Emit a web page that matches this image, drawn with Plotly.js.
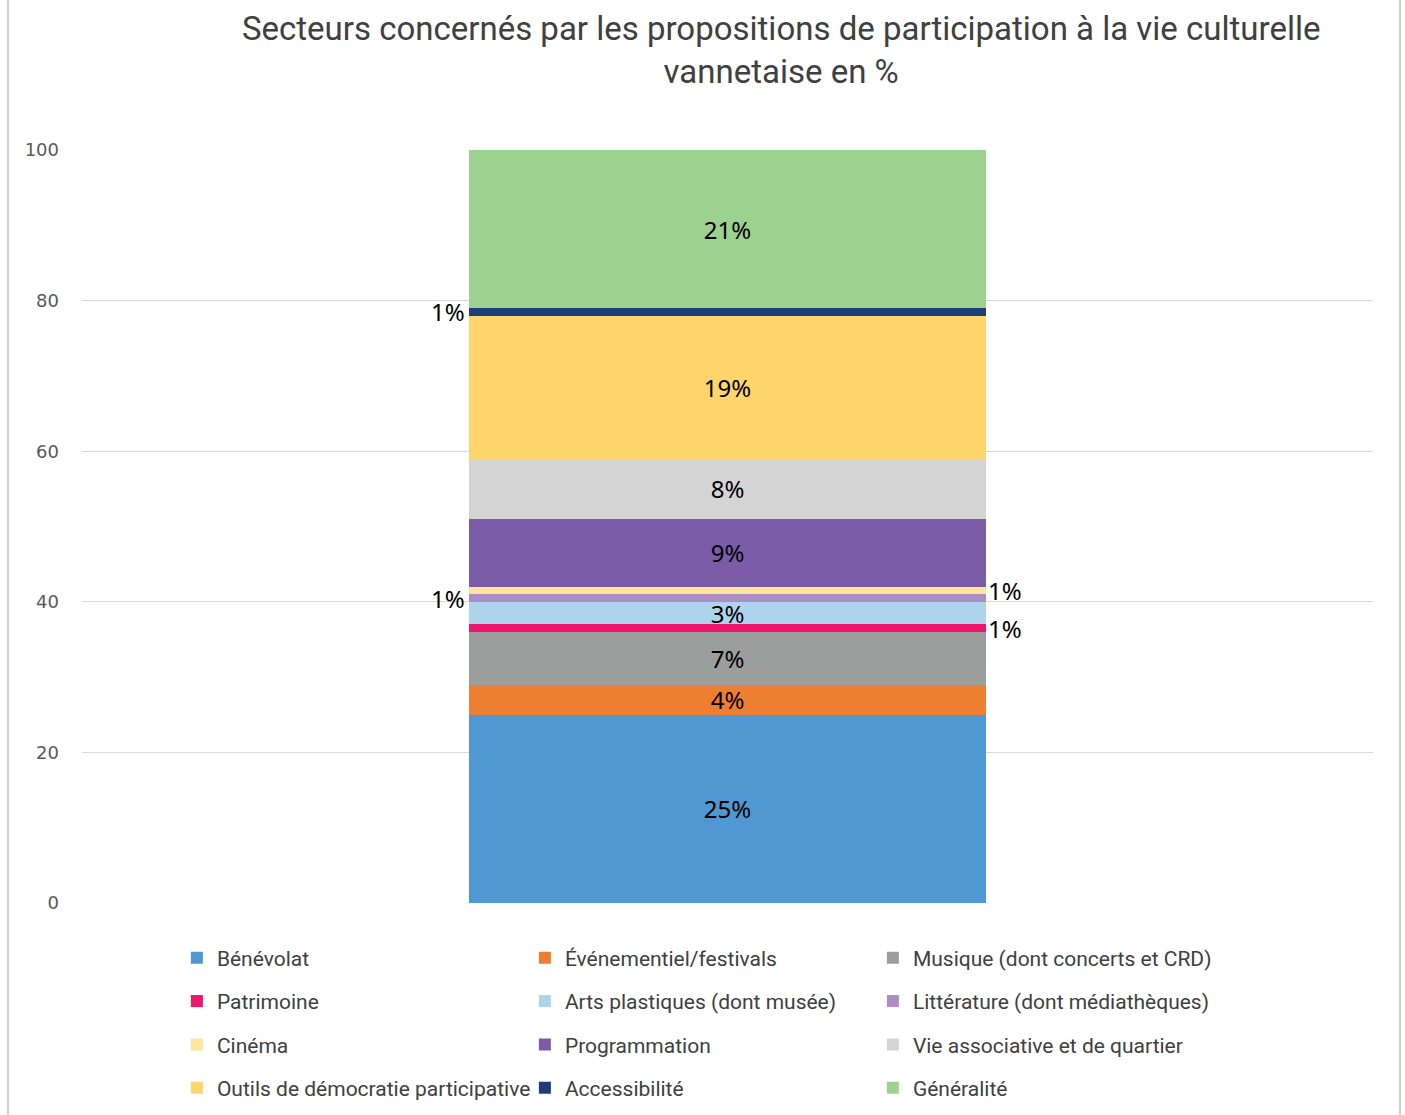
<!DOCTYPE html>
<html>
<head>
<meta charset="utf-8">
<script src="https://cdn.plot.ly/plotly-3.0.1.min.js"></script>
<style>
  html, body { margin: 0; padding: 0; background: #ffffff; }
  #frame { position: absolute; left: 7px; top: 0; width: 1394px; height: 1115px;
           border-left: 2px solid #d0d0d0; border-right: 2px solid #d0d0d0; box-sizing: border-box; }
  #chart { position: absolute; left: 0; top: 0; width: 1405px; height: 1115px; }
</style>
</head>
<body>
<div id="frame"></div>
<div id="chart"></div>
<script>
// ---- Data ----
const category = [""];
const sectors = [
  "Bénévolat",
  "Événementiel/festivals",
  "Musique (dont concerts et CRD)",
  "Patrimoine",
  "Arts plastiques (dont musée)",
  "Littérature (dont médiathèques)",
  "Cinéma",
  "Programmation",
  "Vie associative et de quartier",
  "Outils de démocratie participative",
  "Accessibilité",
  "Généralité"
];
const values = [25, 4, 7, 1, 3, 1, 1, 9, 8, 19, 1, 21];
const colors = [
  "#4f98d2", "#ee7e32", "#9c9e9e", "#ec176b", "#aed3ec", "#ab8ec6",
  "#fde69c", "#7b5ca8", "#d4d4d4", "#fdd56b", "#1f3d7b", "#9dd18f"
];
const yTicks = [0, 20, 40, 60, 80, 100];

// labels placed outside the bar for thin segments (style choice)
const outsideSide = {
  "Patrimoine": "right",
  "Littérature (dont médiathèques)": "left",
  "Cinéma": "right",
  "Accessibilité": "left"
};

const labelFont = { family: "Noto Sans, Open Sans, sans-serif", size: 24, color: "#000000" };
const legendFont = { family: "Roboto, Noto Sans, sans-serif", size: 21, color: "#404040" };

// legend split in rows of 3 (one legend per row for row spacing)
const legendIds = ["legend", "legend2", "legend3", "legend4"];

const traces = sectors.map((name, i) => ({
  type: "bar",
  name: name,
  x: category,
  y: [values[i]],
  marker: { color: colors[i], line: { width: 0 } },
  text: outsideSide[name] ? [""] : [values[i] + "%"],
  textposition: "inside",
  insidetextanchor: "middle",
  textangle: 0,
  textfont: labelFont,
  constraintext: "none",
  legend: legendIds[Math.floor(i / 3)],
  hoverinfo: "name+y"
}));

// annotations for thin segments, positioned from cumulative data
const annotations = [];
let cum = 0;
sectors.forEach((name, i) => {
  const mid = cum + values[i] / 2;
  cum += values[i];
  const side = outsideSide[name];
  if (side) {
    annotations.push({
      x: 0, y: mid, xref: "x", yref: "y",
      text: values[i] + "%",
      showarrow: false,
      xanchor: side === "left" ? "right" : "left",
      xshift: side === "left" ? -261 : 258,
      font: labelFont
    });
  }
});

function legendRow(k) {
  return {
    orientation: "h",
    traceorder: "normal",
    x: 0.0735, xanchor: "left",
    yref: "container",
    y: 0.1408 - k * 0.0389, yanchor: "middle",
    entrywidth: 303,
    entrywidthmode: "pixels",
    font: legendFont,
    bgcolor: "rgba(0,0,0,0)",
    itemclick: false
  };
}

const layout = {
  width: 1405,
  height: 1115,
  paper_bgcolor: "rgba(0,0,0,0)",
  plot_bgcolor: "rgba(0,0,0,0)",
  margin: { l: 82, r: 32, t: 150, b: 212, autoexpand: false },
  barmode: "stack",
  bargap: 0.6,
  title: {
    text: "Secteurs concernés par les propositions de participation à la vie culturelle<br>vannetaise en %",
    x: 0.556, xanchor: "center",
    yref: "container",
    y: 0.964, yanchor: "middle",
    font: { family: "Roboto, Noto Sans, sans-serif", size: 33, color: "#404040" }
  },
  xaxis: {
    type: "category",
    showticklabels: false,
    showgrid: false,
    zeroline: false,
    showline: false,
    ticks: ""
  },
  yaxis: {
    range: [0, 100],
    tickvals: yTicks,
    ticktext: yTicks.map(String),
    showgrid: true,
    gridcolor: "#d9d9d9",
    gridwidth: 1.3,
    zeroline: false,
    showline: false,
    ticks: "",
    ticklabelstandoff: 22,
    tickfont: { family: "DejaVu Sans, sans-serif", size: 18, color: "#595959" }
  },
  legend: legendRow(0),
  legend2: legendRow(1),
  legend3: legendRow(2),
  legend4: legendRow(3),
  annotations: annotations,
  showlegend: true
};

Plotly.newPlot("chart", traces, layout, { displayModeBar: false, staticPlot: true });
</script>
</body>
</html>
